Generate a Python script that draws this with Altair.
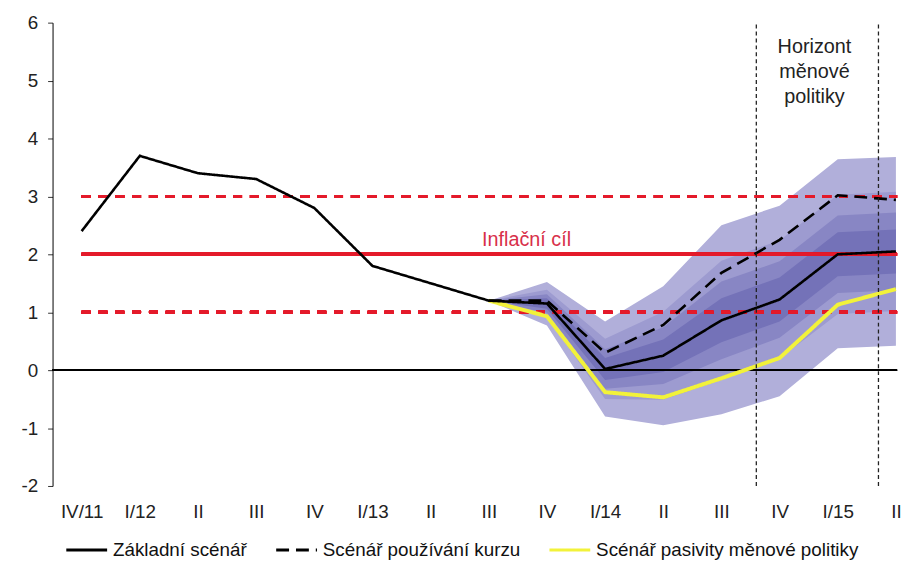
import json
import altair as alt
import pandas as pd

# ---------------- data ----------------
quarters = ["IV/11", "I/12", "II", "III", "IV", "I/13", "II", "III",
            "IV", "I/14", "II", "III", "IV", "I/15", "II"]
baseline = [2.4, 3.7, 3.4, 3.3, 2.8, 1.8, 1.5, 1.2, 1.15, 0.02, 0.25, 0.86, 1.22, 2.0, 2.05]

# scenarios start at III/13 (index 7)
fan_start = 7
fx_scenario = [1.2, 1.2, 0.3, 0.78, 1.68, 2.25, 3.02, 2.94]
passive_scenario = [1.2, 0.93, -0.38, -0.47, -0.14, 0.21, 1.13, 1.40]

# fan bands (lower / upper), III/13 .. II/15
band90_lo = [1.2, 0.77, -0.80, -0.95, -0.76, -0.45, 0.38, 0.42]
band90_hi = [1.2, 1.52, 0.84, 1.45, 2.50, 2.84, 3.64, 3.68]
band70_lo = [1.2, 0.91, -0.50, -0.51, -0.17, 0.20, 0.97, 1.02]
band70_hi = [1.2, 1.39, 0.54, 1.01, 1.89, 2.24, 3.03, 3.08]
band50_lo = [1.2, 0.99, -0.32, -0.24, 0.19, 0.56, 1.33, 1.38]
band50_hi = [1.2, 1.31, 0.36, 0.74, 1.53, 1.88, 2.67, 2.72]
band30_lo = [1.2, 1.06, -0.17, -0.03, 0.48, 0.84, 1.62, 1.67]
band30_hi = [1.2, 1.24, 0.21, 0.53, 1.24, 1.60, 2.38, 2.43]

target = 2.0
tolerance_band = [1.0, 3.0]
horizon_lines = [11.6, 13.7]
horizon_text = ["Horizont", "měnové", "politiky"]
horizon_text_y = [5.58, 5.15, 4.72]
target_label = "Inflační cíl"

series_names = ["Základní scénář", "Scénář používání kurzu", "Scénář pasivity měnové politiky"]

y_min, y_max = -2, 6
x_min, x_max = -0.5, 14.02

# ---------------- tables ----------------
fan_q = list(range(fan_start, fan_start + len(band90_lo)))
fan_df = pd.DataFrame({
    "q": fan_q,
    "lo90": band90_lo, "hi90": band90_hi,
    "lo70": band70_lo, "hi70": band70_hi,
    "lo50": band50_lo, "hi50": band50_hi,
    "lo30": band30_lo, "hi30": band30_hi,
})

base_df = pd.DataFrame({"q": list(range(len(baseline))), "v": baseline, "series": series_names[0]})
fx_df = pd.DataFrame({"q": fan_q, "v": fx_scenario, "series": series_names[1]})
pas_df = pd.DataFrame({"q": fan_q, "v": passive_scenario, "series": series_names[2]})

horizon_df = pd.DataFrame({"x": horizon_lines})
htext_df = pd.DataFrame({"t": horizon_text, "y": horizon_text_y})

FONT = "Liberation Sans"
RED = "#E41A2A"

label_js = json.dumps(quarters)

xscale = alt.Scale(domain=[x_min, x_max], nice=False, zero=False)
yscale = alt.Scale(domain=[y_min, y_max], nice=False, zero=False)

x_axis = alt.Axis(
    values=list(range(len(quarters))),
    labelExpr=f"{label_js}[datum.value]",
    title=None, grid=False, domain=False, ticks=False,
    labelFont=FONT, labelFontSize=19, labelColor="#222222",
    labelPadding=17, labelOverlap=False, labelFlush=False,
)
y_axis = alt.Axis(
    values=list(range(y_min, y_max + 1)),
    labelExpr="'' + datum.value",
    title=None, grid=False, domainColor="#000000", domainWidth=1,
    tickColor="#333333", tickSize=5, labelFont=FONT, labelFontSize=19,
    labelColor="#222222", labelPadding=10,
)

X = alt.X("q:Q", scale=xscale, axis=x_axis)

fan_colors = {"90": "#B1AFDA", "70": "#9D9BD0", "50": "#8886C4", "30": "#7472B8"}
fan_layers = []
for lvl in ["90", "70", "50", "30"]:
    fan_layers.append(
        alt.Chart(fan_df).mark_area(color=fan_colors[lvl], opacity=1, strokeWidth=0).encode(
            x=X,
            y=alt.Y(f"lo{lvl}:Q", scale=yscale, axis=y_axis),
            y2=f"hi{lvl}:Q",
        )
    )

zero_line = alt.Chart(base_df).mark_rule(color="#000000", strokeWidth=1).encode(
    y=alt.datum(0, scale=yscale), x=alt.datum(x_min), x2=alt.datum(x_max)
)
target_line = alt.Chart(base_df).mark_rule(color=RED, strokeWidth=3).encode(
    y=alt.datum(target), x=alt.datum(0), x2=alt.datum(x_max)
)
tol_lines = [
    alt.Chart(base_df).mark_rule(color=RED, strokeWidth=3, strokeDash=[9, 8]).encode(
        y=alt.datum(v), x=alt.datum(0), x2=alt.datum(x_max)
    )
    for v in tolerance_band
]

color_scale = alt.Scale(domain=series_names, range=["#000000", "#000000", "#F2F23A"])
dash_scale = alt.Scale(domain=series_names, range=[[1, 0], [13, 7], [1, 0]])
legend = alt.Legend(
    title=None, orient="none", legendX=12, legendY=510, direction="horizontal",
    symbolType="stroke", symbolStrokeWidth=3, symbolSize=1700,
    labelFont=FONT, labelFontSize=19, labelColor="#111111",
    columnPadding=22, labelLimit=0, labelOffset=4,
)


def line_layer(df, width):
    return alt.Chart(df).mark_line(strokeWidth=width, strokeJoin="miter").encode(
        x=X,
        y=alt.Y("v:Q", scale=yscale),
        color=alt.Color("series:N", scale=color_scale, legend=legend),
        strokeDash=alt.StrokeDash("series:N", scale=dash_scale, legend=legend),
    )


pas_line = line_layer(pas_df, 4)
fx_line = line_layer(fx_df, 2.6)
base_line = line_layer(base_df, 2.6)

horizon = alt.Chart(horizon_df).mark_rule(color="#222222", strokeWidth=1.3, strokeDash=[4, 3]).encode(
    x=alt.X("x:Q", scale=xscale), y=alt.datum(y_min), y2=alt.datum(y_max)
)
htext = alt.Chart(htext_df).mark_text(font=FONT, fontSize=20, color="#222222", align="center",
                                       baseline="middle").encode(
    x=alt.datum(12.6), y=alt.Y("y:Q", scale=yscale), text="t:N"
)
ttext = alt.Chart(pd.DataFrame({"t": [target_label]})).mark_text(
    font=FONT, fontSize=20, color="#D8304A", align="center", baseline="middle"
).encode(x=alt.datum(7.65), y=alt.datum(2.24), text="t:N")

chart = alt.layer(
    *fan_layers, zero_line, *tol_lines, target_line, ttext,
    pas_line, fx_line, base_line, horizon, htext,
).properties(
    width=853, height=468,
    padding={"left": 13, "top": 3, "right": 0, "bottom": 0},
    background="#FFFFFF",
).configure_view(stroke=None)

chart.save("out.html", embed_options={"renderer": "svg", "actions": False})
